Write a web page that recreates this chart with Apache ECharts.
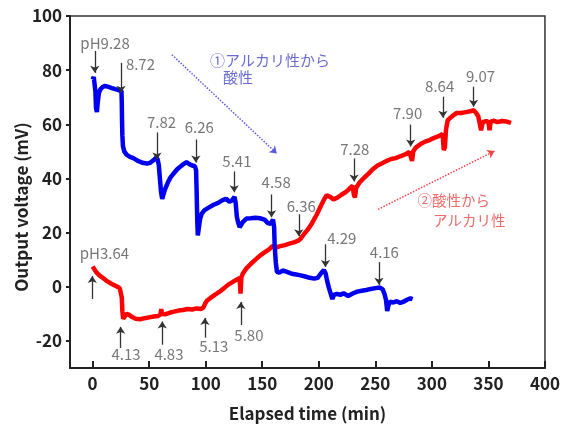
<!DOCTYPE html>
<html><head><meta charset="utf-8">
<script src="https://cdn.jsdelivr.net/npm/echarts@6/dist/echarts.min.js"></script>
<style>html,body{margin:0;padding:0;background:#fff}#c{width:563px;height:427px}</style>
</head><body><div id="c"></div>
<script>
// ---- data (x = elapsed time in min, y = output voltage in mV) ----
const blueSeries = [[0,76.5],[1,77.5],[2,77],[2.5,72],[3,66],[3.8,64.5],[4.5,68],[5.5,71.5],[7,73],[9,73.8],[11,74.2],[14,73.8],[17,73.4],[20,73],[23,72.6],[25.5,72.4],[25.8,68],[26,62],[26.3,56],[26.8,52],[28,50],[30,48.8],[33,48],[36,47.5],[40,46.5],[44,45.8],[48,45.5],[51,45.8],[54,46.8],[56.5,47.8],[57.5,47],[58.5,45],[59.5,40],[60.5,35],[61.5,32.5],[62.5,33],[64,36],[66.5,38.5],[69,40.5],[72,42],[75,43.5],[78,44.5],[81,45.5],[83,46],[85.5,45.3],[88,44.8],[90.5,44.5],[91.5,43],[92,35],[92.5,25],[93,19],[94,19.5],[95,25],[96.5,27],[99,28.3],[103,29.3],[107,30.3],[111,31],[115,32],[118,32.5],[121,31.4],[123,31.8],[125.5,33.2],[126.5,31],[127.5,26],[128.5,24],[130,22],[131,21.5],[133,24],[136,25.2],[140,25.3],[144,25.5],[148,25.3],[152,24.8],[155,23.5],[157.5,23.2],[159.5,24.8],[160.5,22],[161,15],[162,9],[163,5.5],[165,5.2],[168,6],[172,5.5],[176,4.8],[180,4.5],[184,4.2],[188,3.8],[192,3.3],[196,3],[199,3.3],[202,5],[204.5,6.2],[206,5],[207.5,2],[209,-0.5],[210.5,-2.5],[212,-4.5],[213.5,-3],[216,-2.6],[219,-3],[222,-2.4],[226,-3.4],[230,-2.5],[234,-1.8],[238,-1.5],[242,-1.2],[246,-0.8],[250,-0.5],[254,-0.3],[256.5,-1],[258,-2.5],[259.5,-5],[260.5,-9],[261.5,-7],[263,-5.5],[266,-5.8],[269,-5.3],[272,-6],[275,-5.5],[278,-4.8],[281,-4.3],[283,-4.6]];
const redSeries = [[0,7.5],[1,6.8],[3,5.5],[6,4.2],[9,3.3],[12,2.3],[15,1.5],[18,0.8],[21,0.2],[24,-0.5],[25.3,0],[25.8,-4],[26.3,-9],[27,-11.8],[28,-11.5],[30,-10],[32,-10.3],[35,-11.2],[38,-11.8],[42,-12],[46,-11.6],[50,-11.3],[54,-11],[58,-10.8],[60,-10.2],[60.7,-8.2],[61.3,-10],[64,-10.2],[68,-9.6],[72,-9.2],[76,-8.8],[80,-8.6],[84,-8.2],[88,-8.4],[92,-8],[96,-8.2],[98,-7.6],[99.5,-6.2],[101,-5.2],[104,-4.2],[108,-3],[112,-1.9],[116,-0.6],[120,0.8],[124,1.8],[128,2.8],[130,3.2],[130.8,-2.5],[131.5,3.5],[133,5],[136,6.8],[140,8.5],[144,10],[148,11.5],[152,12.7],[156,13.8],[159,15],[162,14.5],[166,15],[170,15.4],[174,15.9],[178,16.4],[182,17],[184,17.8],[187,19.5],[190,21],[194,23.5],[198,26.5],[202,30],[205,32.5],[207,33.8],[210,33.2],[213,32.3],[216,32.8],[220,34],[224,35],[227,36.2],[230,37.3],[231,34],[232,33],[233,36.5],[236,38.5],[240,40.2],[244,41.8],[248,43.5],[252,44.8],[256,45.6],[260,46.5],[264,47.2],[268,47.5],[272,48.2],[276,48.8],[280,49.8],[281.5,50.5],[282.5,46.5],[283.5,50],[286,51.5],[290,52.7],[294,53.6],[298,54.2],[302,55],[306,55.6],[309.5,56.4],[310.5,50.5],[311.5,51.5],[312.5,58],[314,61.5],[318,63],[322,64.2],[326,64.2],[330,64.5],[334,64.8],[337,65.2],[339,64.3],[341,63],[342.5,60],[343.5,57.8],[345,60.8],[348,61.2],[350,60.8],[351,57.8],[352,61],[355,61.3],[358,60.8],[362,61.2],[366,61],[370,60.5]];
const xTickValues = [0,50,100,150,200,250,300,350,400];
const yTickValues = [-20,0,20,40,60,80,100];
// pH marker arrows: [x, yFrom, yTo] (data units)
const phArrows = [[1.9,87.1,79.0],[25.1,82.7,71.7],[56.9,57.0,47.0],[91.3,54.4,45.9],[125.2,42.6,34.9],[158.2,34.1,25.7],[182.3,26.8,18.7],[205.9,15.7,7.3],[253.2,9.1,0.7],[231.2,47.4,38.9],[281.3,59.9,51.8],[309.8,70.2,62.4],[336.9,73.9,66.5],[-0.3,-4.5,4.0],[24.8,-22.6,-14.8],[61.6,-21.4,-12.8],[99.3,-18.8,-11.5],[131.1,-14.1,-5.6]];
// pH marker labels: [x, y, text]
const phLabels = [[11.0,90.1,'pH9.28'],[42.3,82.3,'8.72'],[60.9,60.6,'7.82'],[94.4,58.8,'6.26'],[127.6,46.3,'5.41'],[162.3,38.7,'4.58'],[184.5,29.7,'6.36'],[220.3,18.0,'4.29'],[258.0,12.9,'4.16'],[231.8,50.7,'7.28'],[278.6,63.9,'7.90'],[306.9,74.2,'8.64'],[343.1,77.9,'9.07'],[10.5,12.4,'pH3.64'],[29.5,-25.0,'4.13'],[67.5,-25.0,'4.83'],[107.2,-22.1,'5.13'],[138.2,-18.0,'5.80']];
const blueNote = [[103.7,83.8,'①アルカリ性から'],[115.2,77.2,'酸性']];
const redNote = [[287.4,31.7,'②酸性から'],[300.9,24.3,'アルカリ性']];
const blueTrend = [[70.1,85.7],[162.9,49.2]];
const redTrend = [[252.4,28.6],[355.4,50.1]];

const FONT = '"Noto Sans CJK JP", "Noto Sans", sans-serif';
const chart = echarts.init(document.getElementById('c'));
chart.setOption({
  animation: false,
  backgroundColor: '#fff',
  grid: {left: 70, right: 17, top: 16, bottom: 58, show: true, borderColor: '#333', borderWidth: 1.5},
  xAxis: {
    type: 'value', min: -20, max: 400,
    axisLine: {onZero: false, lineStyle: {color: '#222', width: 2}},
    axisTick: {inside: true, length: 7, customValues: xTickValues, lineStyle: {color: '#222', width: 2}},
    axisLabel: {customValues: xTickValues, fontSize: 17, fontWeight: 'bold', color: '#222', margin: 7, fontFamily: FONT},
    splitLine: {show: false},
    name: 'Elapsed time (min)', nameLocation: 'middle', nameGap: 37,
    nameTextStyle: {fontSize: 17, fontWeight: 'bold', color: '#222', fontFamily: FONT}
  },
  yAxis: {
    type: 'value', min: -30, max: 100,
    axisLine: {onZero: false, lineStyle: {color: '#222', width: 2}},
    axisTick: {inside: false, length: 4, customValues: yTickValues, lineStyle: {color: '#222', width: 2}},
    axisLabel: {customValues: yTickValues, fontSize: 17, fontWeight: 'bold', color: '#222', margin: 8, fontFamily: FONT},
    splitLine: {show: false}
  },
  graphic: [{
    type: 'text', x: 22, y: 207, rotation: Math.PI / 2,
    style: {text: 'Output voltage (mV)', fontSize: 17, fontWeight: 'bold', fill: '#222', fontFamily: FONT, align: 'center', verticalAlign: 'middle'}
  }],
  series: [
    {type: 'line', data: redSeries, showSymbol: false, symbol: 'none', lineStyle: {color: '#ff0000', width: 4.5}, z: 3},
    {type: 'line', data: blueSeries, showSymbol: false, symbol: 'none', lineStyle: {color: '#0000f0', width: 4.5}, z: 4},
    {
      type: 'scatter', symbolSize: 0, silent: true, z: 5,
      data: phLabels,
      label: {show: true, position: 'inside', align: 'center', verticalAlign: 'middle', formatter: p => p.value[2], fontSize: 15, color: '#555', fontFamily: FONT},
      markLine: {
        silent: true, symbol: ['none', 'arrow'], symbolSize: 7,
        label: {show: false},
        lineStyle: {color: '#333', width: 1.3, type: 'solid'},
        data: phArrows.map(a => [{coord: [a[0], a[1]]}, {coord: [a[0], a[2]]}])
      }
    },
    {
      type: 'scatter', symbolSize: 0, silent: true, z: 5,
      data: blueNote,
      label: {show: true, position: 'inside', align: 'left', verticalAlign: 'middle', formatter: p => p.value[2], fontSize: 15, color: '#4646c8', fontFamily: FONT},
      markLine: {
        silent: true, symbol: ['none', 'arrow'], symbolSize: 7,
        label: {show: false},
        lineStyle: {color: '#5a5ad8', width: 1.5, type: 'dotted', curveness: -0.04},
        data: [[{coord: blueTrend[0]}, {coord: blueTrend[1]}]]
      }
    },
    {
      type: 'scatter', symbolSize: 0, silent: true, z: 5,
      data: redNote,
      label: {show: true, position: 'inside', align: 'left', verticalAlign: 'middle', formatter: p => p.value[2], fontSize: 14.5, color: '#e84646', fontFamily: FONT},
      markLine: {
        silent: true, symbol: ['none', 'arrow'], symbolSize: 7,
        label: {show: false},
        lineStyle: {color: '#ee4444', width: 1.5, type: 'dotted', curveness: 0.12},
        data: [[{coord: redTrend[0]}, {coord: redTrend[1]}]]
      }
    }
  ]
});
</script>
</body></html>
